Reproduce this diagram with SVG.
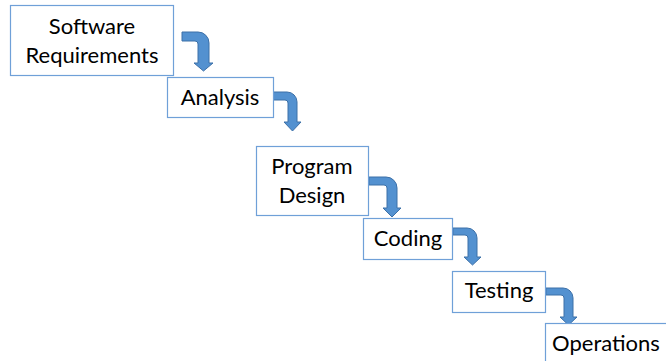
<svg xmlns="http://www.w3.org/2000/svg" width="666" height="361" viewBox="0 0 666 361">
<style>
.box{fill:#fff;stroke:#6FA0D8;stroke-width:1.2}
.lbl{font-family:Lato,"Open Sans","Liberation Sans",sans-serif;font-size:22px;fill:#000;text-anchor:middle}
.arr{fill:#5391D0;stroke:#3C70A8;stroke-width:1}
</style>
<rect width="666" height="361" fill="#fff"/>
<g id="connectors">
<path class="arr" d="M182,32 H198 A11,11 0 0 1 209,43 V63 H213 L203.5,71 L194,63 H198 V44 A3,3 0 0 0 195,41 H182 Z"/>
<path class="arr" d="M273,92 H287 A10,10 0 0 1 297,102 V122 H301 L292.5,131 L284,122 H288 V103 A3,3 0 0 0 285,100 H273 Z"/>
<path class="arr" d="M369,177 H386 A11,11 0 0 1 397,188 V208 H401 L392,217 L383,208 H387 V188 A3,3 0 0 0 384,185 H369 Z"/>
<path class="arr" d="M453,228 H467 A10,10 0 0 1 477,238 V257 H481 L472.5,265 L464,257 H468 V238 A3,3 0 0 0 465,235 H453 Z"/>
<path class="arr" d="M546,288 H563 A10,10 0 0 1 573,298 V317 H577 L568.5,325 L560,317 H564 V298 A3,3 0 0 0 561,295 H546 Z"/>
</g>
<g id="n1"><rect class="box" x="10.5" y="5.5" width="163" height="70"/><text class="lbl" x="92" y="34">Software</text><text class="lbl" x="92" y="63">Requirements</text></g>
<g id="n2"><rect class="box" x="167.5" y="77.5" width="106" height="40"/><text class="lbl" x="220" y="105">Analysis</text></g>
<g id="n3"><rect class="box" x="256.5" y="146.5" width="112" height="69"/><text class="lbl" x="312" y="174">Program</text><text class="lbl" x="312" y="203">Design</text></g>
<g id="n4"><rect class="box" x="363.5" y="218.5" width="89" height="41"/><text class="lbl" x="408" y="246">Coding</text></g>
<g id="n5"><rect class="box" x="452.5" y="271.5" width="93" height="41"/><text class="lbl" x="499" y="298">Testing</text></g>
<g id="n6"><rect class="box" x="545.5" y="323.5" width="122" height="41"/><text class="lbl" x="606" y="351">Operations</text></g>
</svg>
